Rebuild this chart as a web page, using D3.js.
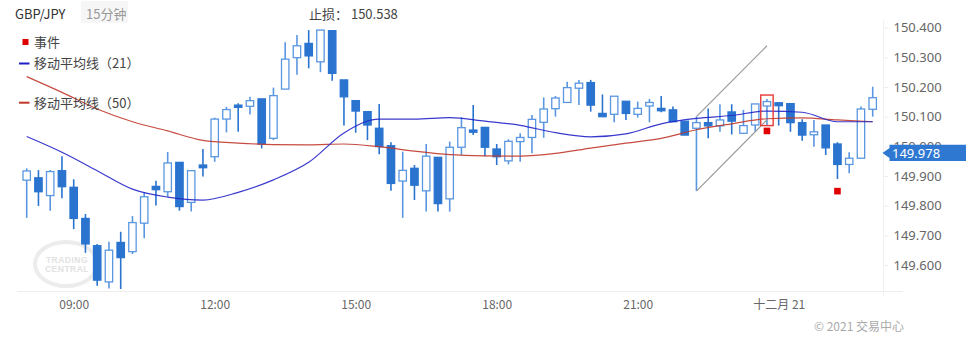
<!DOCTYPE html>
<html><head><meta charset="utf-8">
<script src="https://cdn.jsdelivr.net/npm/d3@7"></script>
<style>
body{margin:0;background:#fff}
svg{display:block;font-family:"Noto Sans CJK SC","Noto Sans",sans-serif}
</style></head>
<body><svg id="c" width="966" height="340"></svg>
<script>
const times = ["08:00","08:15","08:30","08:45","09:00","09:15","09:30","09:45","10:00","10:15",
"10:30","10:45","11:00","11:15","11:30","11:45","12:00","12:15","12:30","12:45",
"13:00","13:15","13:30","13:45","14:00","14:15","14:30","14:45","15:00","15:15",
"15:30","15:45","16:00","16:15","16:30","16:45","17:00","17:15","17:30","17:45",
"18:00","18:15","18:30","18:45","19:00","19:15","19:30","19:45","20:00","20:15",
"20:30","20:45","21:00","21:15","21:30","21:45","22:00","22:15","22:30","22:45",
"23:00","23:15","23:30","23:45","00:00","00:15","00:30","00:45","01:00","01:15",
"01:30","01:45","02:00"];
const open = [149.886,149.894,149.834,149.918,149.862,149.757,149.665,149.543,149.676,149.645,
149.741,149.865,149.847,149.946,149.811,149.937,149.965,150.092,150.139,150.135,
150.160,150.027,150.193,150.299,150.347,150.285,150.390,150.224,150.154,150.117,
150.061,150.002,149.883,149.926,149.850,149.963,149.823,149.997,150.055,150.064,
149.991,149.951,150.016,150.030,150.081,150.127,150.148,150.196,150.215,150.111,
150.108,150.152,150.108,150.136,150.128,150.123,150.085,150.061,150.080,150.069,
150.116,150.044,150.072,150.136,150.147,150.144,150.080,150.039,150.072,150.008,
149.939,149.960,150.125];
const high = [149.926,149.920,149.920,149.967,149.889,149.772,149.671,149.678,149.712,149.765,
149.844,149.884,149.981,149.946,149.918,149.991,150.097,150.133,150.145,150.167,
150.160,150.198,150.351,150.375,150.392,150.392,150.390,150.224,150.154,150.117,
150.143,150.014,149.982,149.937,150.008,149.963,150.016,150.098,150.139,150.064,
150.008,150.024,150.044,150.106,150.165,150.170,150.218,150.224,150.224,150.175,
150.169,150.152,150.151,150.160,150.170,150.134,150.085,150.100,150.128,150.142,
150.142,150.123,150.143,150.160,150.147,150.144,150.091,150.089,150.072,150.014,
149.980,150.134,150.201];
const low = [149.759,149.799,149.783,149.825,149.721,149.641,149.530,149.521,149.519,149.637,
149.690,149.801,149.830,149.783,149.780,149.898,149.948,150.047,150.049,150.107,
149.993,150.021,150.193,150.241,150.263,150.250,150.221,150.070,150.046,150.021,
149.973,149.850,149.759,149.819,149.780,149.780,149.780,149.971,150.038,149.967,
149.937,149.939,149.948,149.977,150.029,150.100,150.148,150.139,150.117,150.100,
150.081,150.089,150.097,150.081,150.115,150.083,150.038,149.850,150.027,150.049,
150.040,150.044,150.049,150.072,150.070,150.049,150.019,149.999,149.971,149.890,
149.909,149.960,150.100];
const close = [149.917,149.847,149.915,149.864,149.757,149.671,149.549,149.650,149.625,149.743,
149.830,149.854,149.944,149.797,149.918,149.928,150.092,150.124,150.135,150.154,
150.008,150.171,150.294,150.339,150.305,150.392,150.246,150.167,150.119,150.072,
149.999,149.875,149.919,149.869,149.967,149.807,149.997,150.063,150.049,149.997,
149.965,150.017,150.030,150.091,150.126,150.163,150.198,150.213,150.139,150.100,
150.169,150.111,150.128,150.148,150.120,150.083,150.038,150.080,150.069,150.089,
150.085,150.070,150.143,150.151,150.137,150.080,150.038,150.049,149.995,149.939,
149.960,150.126,150.164];

// moving averages at sample times
const maTimes = ["08:00","08:45","09:30","10:15","11:00","11:45","12:30","13:15","14:00","14:45",
"15:30","16:15","17:00","17:45","18:30","19:15","20:00","20:45","21:30","22:15",
"23:00","23:45","00:30","01:15","02:00"];
const ma21 = [150.033,149.980,149.918,149.856,149.829,149.819,149.845,149.887,149.946,150.045,
150.092,150.092,150.097,150.085,150.071,150.046,150.032,150.042,150.076,150.094,
150.104,150.119,150.115,150.083,150.083];
const ma50 = [150.235,150.182,150.126,150.083,150.052,150.020,150.011,150.006,150.005,150.008,
149.999,149.984,149.972,149.968,149.967,149.976,149.994,150.011,150.027,150.056,
150.076,150.093,150.096,150.089,150.083];

const yTicks = [149.6,149.7,149.8,149.9,150.0,150.1,150.2,150.3,150.4];
const xTicks = ["09:00","12:00","15:00","18:00","21:00","00:00"];
const xTickLabels = ["09:00","12:00","15:00","18:00","21:00","十二月 21"];

// annotations
const channelLines = [
  [{t:"22:15", p:150.100},{t:"23:45", p:150.339}],
  [{t:"22:15", p:149.849},{t:"23:45", p:150.089}]
];
const highlightBox = {t:"23:45", top:150.173, bottom:150.070};
const events = [{t:"23:45", p:150.052},{t:"01:15", p:149.849}];
const stopLoss = 150.538;
const lastPrice = 149.978;

const svg = d3.select("#c");
const x = d3.scalePoint().domain(times).range([26.7, 872.7]);
const y = d3.scaleLinear().domain([149.6,150.4]).range([265,27.7]);

const BLUE = "#2a74d0";
const HOLLOW = "#5a97e0";

// axis frame lines
svg.append("line").attr("x1",17).attr("x2",903).attr("y1",291.5).attr("y2",291.5).attr("stroke","#eeeeee");
svg.append("line").attr("x1",883.5).attr("x2",883.5).attr("y1",20).attr("y2",296).attr("stroke","#f0f0f0");

// watermark
const wm = svg.append("g");
wm.append("ellipse").attr("cx",66).attr("cy",264).attr("rx",31).attr("ry",22)
  .attr("fill","none").attr("stroke","#ececec").attr("stroke-width",4);
wm.append("text").attr("x",67).attr("y",262.5).attr("text-anchor","middle").attr("font-size",8.5)
  .attr("letter-spacing",0.5).attr("font-weight","bold").attr("fill","#e2e2e2")
  .attr("font-family","Liberation Sans, Arial, sans-serif").text("TRADING");
wm.append("text").attr("x",67).attr("y",272).attr("text-anchor","middle").attr("font-size",8.5)
  .attr("letter-spacing",0.5).attr("font-weight","bold").attr("fill","#e2e2e2")
  .attr("font-family","Liberation Sans, Arial, sans-serif").text("CENTRAL");

// right axis
const ya = svg.append("g").attr("transform","translate(883.5,0)")
  .call(d3.axisRight(y).tickValues(yTicks).tickFormat(d3.format(".3f")).tickSize(5).tickPadding(5));
ya.select(".domain").remove();
ya.selectAll(".tick line").attr("stroke","#eeeeee");
ya.selectAll(".tick text").attr("fill","#666").attr("font-size",13).attr("font-family","Noto Sans, sans-serif");

// bottom axis
const xa = svg.append("g").attr("transform","translate(0,291.5)")
  .call(d3.axisBottom(x).tickValues(xTicks).tickFormat((d,i)=>xTickLabels[i]).tickSize(0).tickPadding(9));
xa.select(".domain").remove();
xa.selectAll(".tick text").attr("fill","#666").attr("font-size",12).attr("font-family","Noto Sans CJK SC, sans-serif");

// candles
const data = times.map((t,i)=>({t, o:open[i], h:high[i], l:low[i], c:close[i]}));
const cg = svg.append("g");
const bw = 7.4;
cg.selectAll("line.w").data(data).join("line").attr("class","w")
  .attr("x1",d=>x(d.t)).attr("x2",d=>x(d.t))
  .attr("y1",d=>y(d.h)).attr("y2",d=>y(d.l))
  .attr("stroke",d=>d.c<d.o?BLUE:HOLLOW).attr("stroke-width",1.6);
cg.selectAll("rect.b").data(data).join("rect").attr("class","b")
  .attr("x",d=>x(d.t)-bw/2).attr("width",bw)
  .attr("y",d=>y(Math.max(d.o,d.c)))
  .attr("height",d=>Math.max(2.2, Math.abs(y(d.o)-y(d.c))))
  .attr("fill",d=>d.c<d.o?BLUE:"#fff")
  .attr("stroke",d=>d.c<d.o?BLUE:HOLLOW).attr("stroke-width",1.3);

// moving averages
const maData = maTimes.map((t,i)=>({t, a:ma21[i], b:ma50[i]}));
svg.append("path").datum(maData)
  .attr("d",d3.line().x(d=>x(d.t)).y(d=>y(d.b)).curve(d3.curveMonotoneX))
  .attr("fill","none").attr("stroke","#c0392b").attr("stroke-width",1.2).attr("opacity",0.9);
svg.append("path").datum(maData)
  .attr("d",d3.line().x(d=>x(d.t)).y(d=>y(d.a)).curve(d3.curveMonotoneX))
  .attr("fill","none").attr("stroke","#2323c8").attr("stroke-width",1.2).attr("opacity",0.9);

// channel
channelLines.forEach(seg=>{
  svg.append("line").attr("x1",x(seg[0].t)).attr("y1",y(seg[0].p))
    .attr("x2",x(seg[1].t)).attr("y2",y(seg[1].p))
    .attr("stroke","#999").attr("stroke-width",1.2);
});
// highlight box
svg.append("rect").attr("x",x(highlightBox.t)-6.2).attr("width",12.4)
  .attr("y",y(highlightBox.top)).attr("height",y(highlightBox.bottom)-y(highlightBox.top))
  .attr("fill","none").attr("stroke","#e53935").attr("stroke-width",1.4);
// events
svg.selectAll("rect.ev").data(events).join("rect").attr("class","ev")
  .attr("x",d=>x(d.t)-3.3).attr("y",d=>y(d.p)-3.3).attr("width",6.6).attr("height",6.6)
  .attr("fill","#e00000");

// header
svg.append("text").attr("x",15).attr("y",19).attr("font-size",13).attr("fill","#333").text("GBP/JPY");
svg.append("rect").attr("x",81).attr("y",1).attr("width",47).attr("height",22).attr("rx",2).attr("fill","#f6f6f6");
svg.append("text").attr("x",86).attr("y",19).attr("font-size",13).attr("fill","#999").text("15分钟");
svg.append("text").attr("x",309).attr("y",19).attr("font-size",13).attr("fill","#444")
  .text("止损： " + d3.format(".3f")(stopLoss));

// legend
svg.append("rect").attr("x",22.5).attr("y",39).attr("width",6).attr("height",6).attr("fill","#e00000");
svg.append("text").attr("x",34).attr("y",47).attr("font-size",13).attr("fill","#444").text("事件");
svg.append("line").attr("x1",19).attr("x2",29.5).attr("y1",63.5).attr("y2",63.5).attr("stroke","#1f1fc8").attr("stroke-width",2);
svg.append("text").attr("x",34).attr("y",68).attr("font-size",13).attr("fill","#444").text("移动平均线（21）");
svg.append("line").attr("x1",19).attr("x2",29.5).attr("y1",102.7).attr("y2",102.7).attr("stroke","#c0392b").attr("stroke-width",2);
svg.append("text").attr("x",34).attr("y",107.5).attr("font-size",13).attr("fill","#444").text("移动平均线（50）");

// last price label
const py = y(lastPrice);
svg.append("path").attr("d",`M882.5,${py} L889.5,${py-5} L889.5,${py-8.2} L966,${py-8.2} L966,${py+8.2} L889.5,${py+8.2} L889.5,${py+5} Z`)
  .attr("fill","#2f78d2");
svg.append("text").attr("x",892).attr("y",py+5).attr("font-size",13).attr("fill","#fff")
  .attr("font-family","Noto Sans, sans-serif").text(d3.format(".3f")(lastPrice));

// copyright
svg.append("text").attr("x",904).attr("y",331).attr("text-anchor","end").attr("font-size",12).attr("fill","#aaa").text("© 2021 交易中心");
</script></body></html>
